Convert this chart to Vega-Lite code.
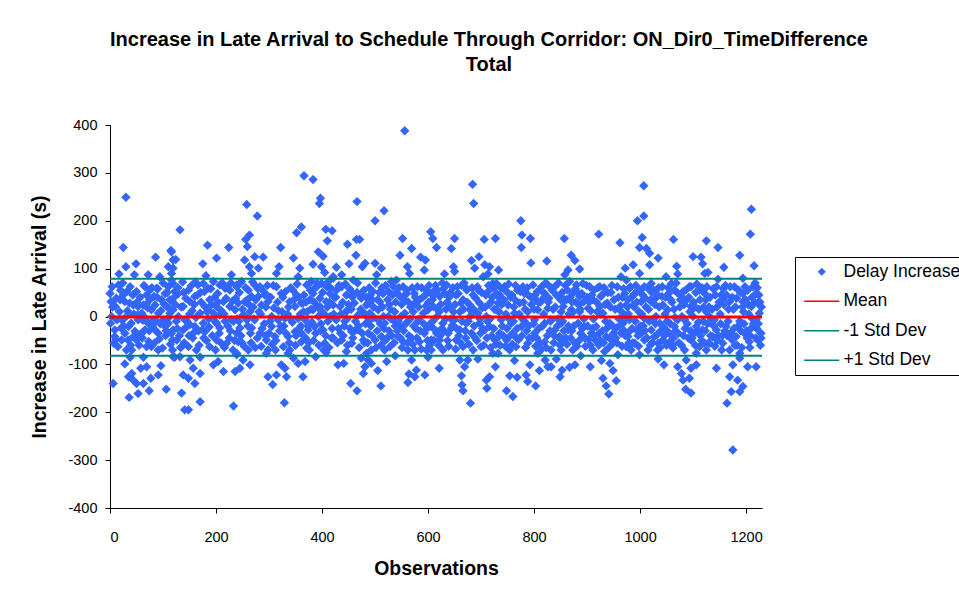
{
  "$schema": "https://vega.github.io/schema/vega-lite/v6.json",
  "width": 652,
  "height": 383,
  "autosize": {"type": "none"},
  "padding": {"left": 110, "top": 125, "right": 197, "bottom": 87},
  "background": "white",
  "title": {
    "text": ["Increase in Late Arrival to Schedule Through Corridor: ON_Dir0_TimeDifference", "Total"],
    "font": "Liberation Sans", "fontSize": 20, "fontWeight": "bold", "color": "black",
    "anchor": "middle", "dx": 53, "offset": 42, "lineHeight": 25, "limit": 0
  },
  "config": {
    "view": {"stroke": null},
    "legend": {
      "orient": "none", "legendX": 685, "legendY": 132,
      "strokeColor": "black", "fillColor": "white", "padding": 6,
      "symbolSize": 100, "symbolOffset": 12, "labelOffset": 13,
      "labelFont": "Liberation Sans", "labelFontSize": 17.5, "labelColor": "black",
      "rowPadding": 10.5, "labelLimit": 0
    }
  },
  "layer": [
    {
      "data": {"values": [
{"o":30,"d":249},{"o":25,"d":144},{"o":30,"d":104},{"o":49,"d":110},{"o":17,"d":89},{"o":46,"d":87},{"o":72,"d":87},{"o":86,"d":124},{"o":115,"d":138},{"o":110,"d":104},{"o":94,"d":83},{"o":119,"d":118},
{"o":6,"d":-140},{"o":36,"d":-169},{"o":53,"d":-161},{"o":74,"d":-155},{"o":106,"d":-152},{"o":91,"d":-122},{"o":77,"d":-129},{"o":58,"d":-108},{"o":28,"d":-99},{"o":41,"d":-119},{"o":50,"d":-140},{"o":44,"d":-133},{"o":63,"d":-140},{"o":35,"d":-126},{"o":69,"d":-105},{"o":96,"d":-103},{"o":119,"d":-84},{"o":38,"d":-85},{"o":63,"d":-85},
{"o":0,"d":48},{"o":16,"d":66},{"o":19,"d":35},{"o":10,"d":21},{"o":3,"d":0},{"o":1,"d":-14},{"o":13,"d":-7},{"o":28,"d":31},{"o":35,"d":7},{"o":9,"d":-42},{"o":22,"d":-49},{"o":28,"d":-35},{"o":44,"d":-42},{"o":50,"d":-49},{"o":41,"d":-70},{"o":53,"d":-7},{"o":50,"d":52},{"o":66,"d":62},{"o":69,"d":45},{"o":63,"d":24},{"o":75,"d":35},{"o":78,"d":14},{"o":85,"d":24},{"o":91,"d":7},{"o":82,"d":-7},{"o":72,"d":-14},{"o":60,"d":7},{"o":97,"d":35},{"o":104,"d":48},{"o":110,"d":62},{"o":116,"d":76},{"o":107,"d":21},{"o":113,"d":7},{"o":101,"d":-7},{"o":91,"d":-35},{"o":104,"d":-21},{"o":119,"d":-28},{"o":78,"d":-63},{"o":69,"d":-63},{"o":91,"d":-70},{"o":9,"d":-28},{"o":2,"d":31},{"o":118,"d":-49},{"o":88,"d":59},{"o":60,"d":-35},{"o":35,"d":-21},{"o":22,"d":-7},{"o":25,"d":45},{"o":44,"d":24},{"o":38,"d":62},{"o":53,"d":21},{"o":66,"d":-28},{"o":85,"d":-28},{"o":31,"d":-70},{"o":113,"d":35},{"o":110,"d":-14},
{"o":4,"d":62},{"o":7,"d":-56},{"o":12,"d":38},{"o":15,"d":-63},{"o":18,"d":10},{"o":21,"d":-24},{"o":24,"d":70},{"o":27,"d":-4},{"o":32,"d":52},{"o":34,"d":-49},{"o":37,"d":28},{"o":40,"d":-14},{"o":43,"d":45},{"o":47,"d":-31},{"o":52,"d":3},{"o":55,"d":-60},{"o":57,"d":40},{"o":61,"d":-45},{"o":64,"d":65},{"o":67,"d":-3},{"o":71,"d":18},{"o":73,"d":-52},{"o":76,"d":56},{"o":80,"d":-21},{"o":83,"d":42},{"o":87,"d":-10},{"o":90,"d":58},{"o":93,"d":-47},{"o":96,"d":12},{"o":99,"d":-66},{"o":102,"d":26},{"o":105,"d":-40},{"o":108,"d":50},{"o":111,"d":-2},{"o":114,"d":-58},{"o":117,"d":33},
{"o":5,"d":20},{"o":11,"d":-48},{"o":20,"d":55},{"o":26,"d":-20},{"o":33,"d":12},{"o":39,"d":-60},{"o":45,"d":5},{"o":51,"d":30},{"o":56,"d":-38},{"o":62,"d":-8},{"o":68,"d":25},{"o":74,"d":-30},{"o":79,"d":60},{"o":84,"d":-55},{"o":89,"d":40},{"o":95,"d":-15},{"o":100,"d":70},{"o":106,"d":-30},{"o":112,"d":18},{"o":118,"d":-70},
{"o":132,"d":181},{"o":184,"d":149},{"o":224,"d":144},{"o":201,"d":122},{"o":175,"d":110},{"o":116,"d":135},{"o":124,"d":119},{"o":119,"d":101},{"o":229,"d":87},{"o":181,"d":85},
{"o":135,"d":-160},{"o":141,"d":-195},{"o":148,"d":-195},{"o":170,"d":-178},{"o":233,"d":-187},{"o":160,"d":-140},{"o":138,"d":-122},{"o":148,"d":-129},{"o":157,"d":-108},{"o":170,"d":-119},{"o":151,"d":-91},{"o":195,"d":-101},{"o":204,"d":-94},{"o":214,"d":-115},{"o":236,"d":-115},{"o":132,"d":-84},{"o":122,"d":-85},{"o":170,"d":-85},{"o":239,"d":-80},
{"o":116,"d":90},{"o":119,"d":69},{"o":129,"d":48},{"o":122,"d":52},{"o":138,"d":21},{"o":148,"d":55},{"o":160,"d":42},{"o":151,"d":31},{"o":166,"d":66},{"o":176,"d":69},{"o":185,"d":59},{"o":195,"d":73},{"o":207,"d":66},{"o":217,"d":59},{"o":226,"d":55},{"o":239,"d":66},{"o":188,"d":35},{"o":179,"d":21},{"o":214,"d":31},{"o":226,"d":21},{"o":236,"d":14},{"o":201,"d":21},{"o":170,"d":7},{"o":185,"d":14},{"o":195,"d":7},{"o":119,"d":14},{"o":129,"d":0},{"o":141,"d":-7},{"o":151,"d":-17},{"o":138,"d":-28},{"o":157,"d":-35},{"o":126,"d":-49},{"o":148,"d":-63},{"o":163,"d":-70},{"o":179,"d":-32},{"o":201,"d":-14},{"o":207,"d":-24},{"o":217,"d":-10},{"o":229,"d":-7},{"o":239,"d":-35},{"o":201,"d":-49},{"o":220,"d":-56},{"o":232,"d":-70},{"o":188,"d":-63},{"o":116,"d":-35},{"o":135,"d":-63},{"o":160,"d":-21},{"o":176,"d":-14},{"o":207,"d":3},
{"o":121,"d":40},{"o":125,"d":-10},{"o":128,"d":60},{"o":131,"d":-40},{"o":134,"d":20},{"o":137,"d":72},{"o":140,"d":-55},{"o":143,"d":38},{"o":146,"d":-20},{"o":150,"d":5},{"o":153,"d":64},{"o":156,"d":-45},{"o":159,"d":25},{"o":162,"d":-2},{"o":165,"d":45},{"o":168,"d":-60},{"o":172,"d":30},{"o":174,"d":-28},{"o":178,"d":52},{"o":182,"d":-50},{"o":186,"d":-5},{"o":190,"d":58},{"o":193,"d":-40},{"o":197,"d":40},{"o":199,"d":-70},{"o":203,"d":48},{"o":206,"d":-35},{"o":210,"d":12},{"o":212,"d":70},{"o":216,"d":-65},{"o":219,"d":38},{"o":222,"d":-20},{"o":225,"d":-45},{"o":228,"d":70},{"o":233,"d":-10},{"o":237,"d":38},
{"o":123,"d":25},{"o":127,"d":-25},{"o":133,"d":-65},{"o":139,"d":50},{"o":144,"d":-8},{"o":149,"d":-40},{"o":155,"d":12},{"o":161,"d":72},{"o":167,"d":-30},{"o":171,"d":50},{"o":177,"d":-45},{"o":183,"d":10},{"o":187,"d":-22},{"o":192,"d":25},{"o":198,"d":-10},{"o":204,"d":30},{"o":209,"d":-55},{"o":215,"d":5},{"o":221,"d":60},{"o":227,"d":-30},{"o":231,"d":32},{"o":235,"d":-50},{"o":240,"d":-5},
{"o":366,"d":294},{"o":258,"d":234},{"o":278,"d":210},{"o":352,"d":175},{"o":361,"d":187},{"o":263,"d":170},{"o":256,"d":161},{"o":259,"d":146},{"o":322,"d":144},{"o":254,"d":118},{"o":273,"d":125},{"o":289,"d":124},{"o":346,"d":122},{"o":263,"d":104},{"o":280,"d":101},{"o":319,"d":104},{"o":314,"d":90},{"o":358,"d":101},{"o":355,"d":83},{"o":267,"d":90},
{"o":329,"d":-180},{"o":307,"d":-142},{"o":298,"d":-126},{"o":314,"d":-122},{"o":333,"d":-126},{"o":364,"d":-126},{"o":245,"d":-108},{"o":264,"d":-101},{"o":251,"d":-91},{"o":323,"d":-101},{"o":330,"d":-108},{"o":346,"d":-87},{"o":355,"d":-98},{"o":239,"d":-77},{"o":295,"d":-77},{"o":336,"d":-77},
{"o":239,"d":62},{"o":248,"d":73},{"o":261,"d":55},{"o":273,"d":66},{"o":283,"d":62},{"o":267,"d":42},{"o":254,"d":31},{"o":242,"d":28},{"o":280,"d":42},{"o":292,"d":45},{"o":298,"d":31},{"o":314,"d":62},{"o":323,"d":48},{"o":339,"d":31},{"o":352,"d":45},{"o":361,"d":28},{"o":349,"d":21},{"o":264,"d":10},{"o":251,"d":3},{"o":286,"d":24},{"o":305,"d":0},{"o":330,"d":-4},{"o":355,"d":-4},{"o":273,"d":-7},{"o":245,"d":-24},{"o":267,"d":-24},{"o":283,"d":-35},{"o":305,"d":-21},{"o":311,"d":-42},{"o":295,"d":-49},{"o":336,"d":-42},{"o":349,"d":-32},{"o":361,"d":-53},{"o":242,"d":-53},{"o":261,"d":-70},{"o":298,"d":-70},{"o":327,"d":-63},{"o":339,"d":-70},{"o":317,"d":-7},{"o":258,"d":-7},
{"o":244,"d":50},{"o":247,"d":-40},{"o":250,"d":15},{"o":253,"d":-62},{"o":256,"d":60},{"o":260,"d":-20},{"o":262,"d":25},{"o":266,"d":-55},{"o":269,"d":72},{"o":271,"d":-5},{"o":275,"d":35},{"o":278,"d":-45},{"o":281,"d":10},{"o":285,"d":-62},{"o":288,"d":55},{"o":291,"d":-15},{"o":294,"d":20},{"o":297,"d":65},{"o":300,"d":-35},{"o":303,"d":40},{"o":306,"d":-58},{"o":309,"d":18},{"o":312,"d":-70},{"o":316,"d":30},{"o":320,"d":-30},{"o":325,"d":10},{"o":328,"d":-20},{"o":331,"d":52},{"o":335,"d":5},{"o":338,"d":-55},{"o":341,"d":60},{"o":344,"d":-12},{"o":347,"d":35},{"o":350,"d":-60},{"o":353,"d":68},{"o":357,"d":-25},{"o":359,"d":5},
{"o":243,"d":-10},{"o":246,"d":70},{"o":249,"d":-55},{"o":255,"d":0},{"o":259,"d":35},{"o":265,"d":-35},{"o":270,"d":20},{"o":274,"d":-65},{"o":279,"d":58},{"o":284,"d":5},{"o":287,"d":-25},{"o":293,"d":-40},{"o":296,"d":45},{"o":302,"d":-10},{"o":308,"d":65},{"o":313,"d":-50},{"o":318,"d":12},{"o":322,"d":-20},{"o":326,"d":40},{"o":332,"d":-35},{"o":337,"d":20},{"o":340,"d":-5},{"o":345,"d":55},{"o":351,"d":-40},{"o":356,"d":40},{"o":360,"d":-20},
{"o":383,"d":286},{"o":397,"d":247},{"o":395,"d":236},{"o":466,"d":240},{"o":407,"d":182},{"o":419,"d":179},{"o":410,"d":158},{"o":448,"d":151},{"o":465,"d":161},{"o":471,"d":161},{"o":464,"d":128},{"o":393,"d":135},{"o":402,"d":126},{"o":383,"d":109},{"o":399,"d":104},{"o":427,"d":103},{"o":451,"d":110},{"o":476,"d":104},{"o":481,"d":111},{"o":405,"d":92},{"o":437,"d":87},{"o":421,"d":83},{"o":459,"d":76},
{"o":368,"d":-94},{"o":430,"d":-101},{"o":441,"d":-98},{"o":454,"d":-140},{"o":466,"d":-155},{"o":478,"d":-119},{"o":481,"d":-105},{"o":388,"d":-84},{"o":408,"d":-75},{"o":474,"d":-87},
{"o":371,"d":66},{"o":380,"d":73},{"o":390,"d":62},{"o":383,"d":48},{"o":399,"d":69},{"o":412,"d":73},{"o":421,"d":80},{"o":437,"d":62},{"o":427,"d":55},{"o":415,"d":48},{"o":446,"d":45},{"o":459,"d":48},{"o":474,"d":38},{"o":484,"d":24},{"o":377,"d":35},{"o":364,"d":28},{"o":396,"d":38},{"o":408,"d":31},{"o":421,"d":24},{"o":434,"d":21},{"o":449,"d":14},{"o":468,"d":3},{"o":484,"d":0},{"o":368,"d":-7},{"o":383,"d":14},{"o":393,"d":0},{"o":415,"d":0},{"o":427,"d":-7},{"o":443,"d":-10},{"o":374,"d":-28},{"o":386,"d":-21},{"o":402,"d":-28},{"o":421,"d":-45},{"o":437,"d":-49},{"o":456,"d":-32},{"o":468,"d":-28},{"o":478,"d":-49},{"o":456,"d":-56},{"o":361,"d":-35},{"o":371,"d":-66},{"o":405,"d":-56},{"o":446,"d":-73},{"o":484,"d":-77},{"o":396,"d":21},
{"o":366,"d":45},{"o":369,"d":-45},{"o":372,"d":10},{"o":375,"d":-55},{"o":378,"d":55},{"o":381,"d":-12},{"o":385,"d":30},{"o":388,"d":-35},{"o":391,"d":70},{"o":394,"d":-60},{"o":398,"d":-15},{"o":401,"d":50},{"o":404,"d":5},{"o":407,"d":-40},{"o":410,"d":20},{"o":413,"d":-65},{"o":416,"d":60},{"o":419,"d":-25},{"o":423,"d":40},{"o":425,"d":-5},{"o":429,"d":-55},{"o":432,"d":65},{"o":435,"d":-35},{"o":439,"d":30},{"o":442,"d":-20},{"o":445,"d":10},{"o":448,"d":-60},{"o":452,"d":58},{"o":455,"d":15},{"o":458,"d":-45},{"o":461,"d":28},{"o":463,"d":-10},{"o":467,"d":70},{"o":470,"d":-65},{"o":473,"d":15},{"o":476,"d":-35},{"o":479,"d":55},{"o":482,"d":-15},
{"o":365,"d":10},{"o":370,"d":30},{"o":373,"d":-20},{"o":376,"d":-70},{"o":379,"d":15},{"o":384,"d":-50},{"o":387,"d":60},{"o":392,"d":20},{"o":397,"d":-30},{"o":400,"d":10},{"o":403,"d":-70},{"o":409,"d":62},{"o":411,"d":-10},{"o":414,"d":30},{"o":418,"d":-45},{"o":422,"d":5},{"o":426,"d":40},{"o":431,"d":-25},{"o":436,"d":5},{"o":440,"d":-40},{"o":444,"d":68},{"o":447,"d":-5},{"o":450,"d":25},{"o":453,"d":-25},{"o":457,"d":40},{"o":462,"d":-30},{"o":466,"d":50},{"o":469,"d":-20},{"o":472,"d":45},{"o":477,"d":10},{"o":480,"d":-55},{"o":483,"d":40},
{"o":556,"d":388},{"o":517,"d":221},{"o":500,"d":200},{"o":552,"d":163},{"o":569,"d":142},{"o":547,"d":128},{"o":605,"d":177},{"o":609,"d":163},{"o":586,"d":124},{"o":595,"d":118},{"o":561,"d":104},{"o":593,"d":97},{"o":500,"d":111},{"o":512,"d":101},{"o":565,"d":90},{"o":503,"d":87},
{"o":511,"d":-145},{"o":505,"d":-113},{"o":522,"d":-94},{"o":493,"d":-98},{"o":562,"d":-138},{"o":564,"d":-120},{"o":575,"d":-126},{"o":594,"d":-122},{"o":578,"d":-112},{"o":569,"d":-91},{"o":538,"d":-82},{"o":600,"d":-85},{"o":487,"d":-91},
{"o":487,"d":28},{"o":496,"d":52},{"o":509,"d":31},{"o":515,"d":48},{"o":525,"d":52},{"o":531,"d":73},{"o":540,"d":76},{"o":553,"d":62},{"o":547,"d":42},{"o":559,"d":48},{"o":575,"d":28},{"o":584,"d":35},{"o":597,"d":55},{"o":606,"d":48},{"o":600,"d":14},{"o":591,"d":7},{"o":572,"d":10},{"o":556,"d":7},{"o":537,"d":10},{"o":525,"d":0},{"o":506,"d":-7},{"o":490,"d":7},{"o":518,"d":-14},{"o":534,"d":-7},{"o":547,"d":-21},{"o":562,"d":-10},{"o":581,"d":-10},{"o":606,"d":-21},{"o":487,"d":-35},{"o":500,"d":-49},{"o":512,"d":-42},{"o":528,"d":-63},{"o":543,"d":-42},{"o":553,"d":-53},{"o":569,"d":-45},{"o":584,"d":-53},{"o":597,"d":-70},{"o":606,"d":-49},{"o":562,"d":-70},{"o":493,"d":-70},{"o":518,"d":-70},{"o":506,"d":14},{"o":575,"d":-70},
{"o":486,"d":-55},{"o":489,"d":60},{"o":492,"d":-20},{"o":495,"d":35},{"o":498,"d":-2},{"o":501,"d":70},{"o":504,"d":-30},{"o":508,"d":50},{"o":511,"d":-60},{"o":514,"d":20},{"o":517,"d":-25},{"o":520,"d":65},{"o":523,"d":-45},{"o":527,"d":25},{"o":530,"d":-5},{"o":533,"d":45},{"o":536,"d":-55},{"o":539,"d":30},{"o":542,"d":-30},{"o":545,"d":60},{"o":549,"d":0},{"o":551,"d":-65},{"o":555,"d":35},{"o":558,"d":-15},{"o":560,"d":55},{"o":564,"d":-40},{"o":567,"d":20},{"o":571,"d":-58},{"o":574,"d":48},{"o":577,"d":-25},{"o":580,"d":62},{"o":583,"d":-5},{"o":587,"d":-68},{"o":590,"d":40},{"o":593,"d":-35},{"o":596,"d":22},{"o":599,"d":-50},{"o":602,"d":65},{"o":604,"d":-15},
{"o":488,"d":-10},{"o":491,"d":45},{"o":494,"d":-40},{"o":497,"d":20},{"o":502,"d":-65},{"o":505,"d":35},{"o":510,"d":-15},{"o":513,"d":60},{"o":516,"d":0},{"o":519,"d":-50},{"o":524,"d":35},{"o":526,"d":-30},{"o":529,"d":15},{"o":532,"d":-40},{"o":535,"d":62},{"o":538,"d":-20},{"o":541,"d":50},{"o":544,"d":-10},{"o":548,"d":-45},{"o":550,"d":25},{"o":554,"d":-30},{"o":557,"d":45},{"o":561,"d":-55},{"o":563,"d":30},{"o":566,"d":-5},{"o":570,"d":60},{"o":573,"d":-20},{"o":576,"d":40},{"o":579,"d":-45},{"o":582,"d":20},{"o":585,"d":-30},{"o":588,"d":60},{"o":592,"d":-15},{"o":595,"d":45},{"o":598,"d":-25},{"o":601,"d":30},{"o":603,"d":-60},
{"o":684,"d":276},{"o":686,"d":236},{"o":616,"d":144},{"o":650,"d":163},{"o":644,"d":142},{"o":706,"d":161},{"o":727,"d":163},{"o":682,"d":117},{"o":696,"d":125},{"o":688,"d":101},{"o":707,"d":108},{"o":716,"d":104},{"o":648,"d":104},{"o":631,"d":89},{"o":650,"d":94},{"o":713,"d":89},{"o":733,"d":97},
{"o":680,"d":-181},{"o":664,"d":-143},{"o":666,"d":-155},{"o":663,"d":-124},{"o":621,"d":-108},{"o":669,"d":-105},{"o":675,"d":-91},{"o":710,"d":-133},{"o":716,"d":-126},{"o":711,"d":-150},{"o":727,"d":-105},{"o":694,"d":-89},{"o":660,"d":-91},{"o":606,"d":-70},
{"o":610,"d":52},{"o":622,"d":42},{"o":635,"d":66},{"o":631,"d":48},{"o":653,"d":45},{"o":672,"d":59},{"o":666,"d":35},{"o":685,"d":45},{"o":697,"d":28},{"o":704,"d":83},{"o":713,"d":52},{"o":722,"d":69},{"o":729,"d":48},{"o":719,"d":31},{"o":610,"d":21},{"o":619,"d":14},{"o":641,"d":21},{"o":660,"d":10},{"o":679,"d":14},{"o":694,"d":7},{"o":710,"d":0},{"o":729,"d":14},{"o":606,"d":-21},{"o":616,"d":-35},{"o":628,"d":-14},{"o":638,"d":-35},{"o":644,"d":-24},{"o":653,"d":-49},{"o":660,"d":-28},{"o":672,"d":-14},{"o":682,"d":-35},{"o":666,"d":-63},{"o":697,"d":-14},{"o":707,"d":-28},{"o":716,"d":-21},{"o":726,"d":-49},{"o":628,"d":-70},{"o":700,"d":-63},{"o":722,"d":-77},{"o":622,"d":-49},{"o":650,"d":-7},{"o":685,"d":-70},
{"o":608,"d":35},{"o":611,"d":-50},{"o":614,"d":65},{"o":617,"d":0},{"o":620,"d":-60},{"o":624,"d":25},{"o":626,"d":-25},{"o":629,"d":58},{"o":633,"d":-5},{"o":636,"d":30},{"o":639,"d":-62},{"o":642,"d":50},{"o":646,"d":-18},{"o":648,"d":10},{"o":652,"d":-68},{"o":655,"d":62},{"o":658,"d":-40},{"o":662,"d":28},{"o":664,"d":-10},{"o":668,"d":70},{"o":671,"d":-45},{"o":674,"d":30},{"o":677,"d":-58},{"o":681,"d":2},{"o":683,"d":60},{"o":687,"d":-20},{"o":690,"d":38},{"o":692,"d":-50},{"o":695,"d":55},{"o":699,"d":-35},{"o":702,"d":18},{"o":705,"d":-60},{"o":709,"d":45},{"o":712,"d":-10},{"o":715,"d":25},{"o":718,"d":-65},{"o":721,"d":40},{"o":724,"d":-25},{"o":728,"d":-58},
{"o":609,"d":-10},{"o":612,"d":45},{"o":615,"d":-30},{"o":618,"d":55},{"o":621,"d":10},{"o":623,"d":-40},{"o":627,"d":70},{"o":630,"d":-30},{"o":634,"d":15},{"o":637,"d":-50},{"o":640,"d":40},{"o":643,"d":-5},{"o":647,"d":60},{"o":651,"d":25},{"o":654,"d":-25},{"o":657,"d":48},{"o":661,"d":-55},{"o":663,"d":65},{"o":667,"d":15},{"o":670,"d":-30},{"o":673,"d":55},{"o":676,"d":-10},{"o":678,"d":25},{"o":686,"d":15},{"o":689,"d":-45},{"o":693,"d":62},{"o":698,"d":-5},{"o":701,"d":50},{"o":703,"d":-25},{"o":708,"d":20},{"o":711,"d":-45},{"o":714,"d":65},{"o":717,"d":-5},{"o":720,"d":-40},{"o":723,"d":60},{"o":725,"d":15},
{"o":775,"d":200},{"o":777,"d":170},{"o":793,"d":163},{"o":776,"d":144},{"o":794,"d":112},{"o":824,"d":116},{"o":857,"d":163},
{"o":748,"d":-155},{"o":760,"d":-167},{"o":754,"d":-124},{"o":768,"d":-127},{"o":785,"d":-122},{"o":788,"d":-136},{"o":803,"d":-145},{"o":810,"d":-113},{"o":826,"d":-105},{"o":763,"d":-92},{"o":792,"d":-101},{"o":832,"d":-105},{"o":849,"d":-126},{"o":821,"d":-91},{"o":842,"d":-89},
{"o":729,"d":69},{"o":735,"d":45},{"o":745,"d":55},{"o":732,"d":28},{"o":751,"d":24},{"o":763,"d":7},{"o":773,"d":28},{"o":782,"d":48},{"o":798,"d":66},{"o":814,"d":62},{"o":826,"d":66},{"o":839,"d":62},{"o":820,"d":48},{"o":804,"d":35},{"o":788,"d":10},{"o":807,"d":14},{"o":826,"d":17},{"o":848,"d":42},{"o":851,"d":10},{"o":782,"d":-10},{"o":801,"d":-7},{"o":820,"d":-14},{"o":832,"d":-7},{"o":738,"d":-7},{"o":735,"d":-35},{"o":748,"d":-49},{"o":760,"d":-35},{"o":766,"d":-63},{"o":754,"d":-70},{"o":788,"d":-56},{"o":801,"d":-35},{"o":820,"d":-53},{"o":839,"d":-28},{"o":848,"d":-42},{"o":832,"d":-70},{"o":807,"d":-77},{"o":732,"d":-77},{"o":776,"d":-21},{"o":757,"d":-14},
{"o":731,"d":-45},{"o":734,"d":10},{"o":737,"d":60},{"o":740,"d":-20},{"o":743,"d":35},{"o":746,"d":-62},{"o":750,"d":50},{"o":753,"d":-5},{"o":756,"d":40},{"o":759,"d":-58},{"o":762,"d":20},{"o":765,"d":65},{"o":768,"d":-25},{"o":771,"d":-48},{"o":774,"d":52},{"o":778,"d":-5},{"o":780,"d":30},{"o":784,"d":-65},{"o":787,"d":60},{"o":790,"d":-20},{"o":794,"d":40},{"o":797,"d":-45},{"o":800,"d":15},{"o":803,"d":-62},{"o":806,"d":52},{"o":809,"d":-25},{"o":812,"d":30},{"o":815,"d":-68},{"o":818,"d":5},{"o":822,"d":70},{"o":825,"d":-40},{"o":828,"d":38},{"o":831,"d":-10},{"o":834,"d":55},{"o":837,"d":-55},{"o":840,"d":20},{"o":844,"d":-20},{"o":846,"d":70},{"o":849,"d":-60},
{"o":733,"d":40},{"o":736,"d":-60},{"o":739,"d":25},{"o":742,"d":-40},{"o":744,"d":62},{"o":747,"d":5},{"o":749,"d":-25},{"o":752,"d":68},{"o":755,"d":-40},{"o":758,"d":45},{"o":761,"d":-10},{"o":764,"d":35},{"o":767,"d":-45},{"o":769,"d":55},{"o":772,"d":5},{"o":777,"d":-40},{"o":779,"d":62},{"o":783,"d":15},{"o":786,"d":-30},{"o":789,"d":45},{"o":791,"d":-45},{"o":795,"d":25},{"o":799,"d":-15},{"o":802,"d":45},{"o":805,"d":-45},{"o":808,"d":30},{"o":811,"d":-55},{"o":813,"d":55},{"o":816,"d":-20},{"o":819,"d":40},{"o":823,"d":-65},{"o":827,"d":30},{"o":830,"d":-30},{"o":833,"d":60},{"o":836,"d":15},{"o":838,"d":-40},{"o":842,"d":45},{"o":845,"d":-5},{"o":847,"d":-45},{"o":850,"d":35},
{"o":922,"d":172},{"o":962,"d":154},{"o":870,"d":128},{"o":877,"d":117},{"o":972,"d":101},{"o":886,"d":99},{"o":864,"d":97},{"o":858,"d":87},{"o":964,"d":83},
{"o":941,"d":-162},{"o":936,"d":-145},{"o":930,"d":-129},{"o":955,"d":-134},{"o":949,"d":-113},{"o":853,"d":-112},{"o":867,"d":-106},{"o":877,"d":-101},{"o":906,"d":-105},{"o":927,"d":-92},{"o":943,"d":-98},{"o":958,"d":-80},{"o":888,"d":-82},
{"o":867,"d":73},{"o":880,"d":66},{"o":892,"d":69},{"o":905,"d":62},{"o":924,"d":62},{"o":873,"d":48},{"o":886,"d":42},{"o":861,"d":35},{"o":911,"d":35},{"o":924,"d":21},{"o":930,"d":7},{"o":971,"d":48},{"o":974,"d":24},{"o":855,"d":21},{"o":870,"d":14},{"o":886,"d":10},{"o":902,"d":17},{"o":851,"d":-14},{"o":864,"d":-28},{"o":855,"d":-49},{"o":851,"d":-70},{"o":883,"d":-14},{"o":895,"d":-21},{"o":892,"d":-42},{"o":908,"d":-35},{"o":917,"d":-21},{"o":943,"d":-14},{"o":955,"d":-24},{"o":968,"d":-14},{"o":924,"d":-49},{"o":936,"d":-42},{"o":949,"d":-56},{"o":964,"d":-35},{"o":974,"d":-63},{"o":911,"d":-70},{"o":933,"d":-73},{"o":873,"d":-70},{"o":971,"d":3},
{"o":853,"d":50},{"o":856,"d":-30},{"o":859,"d":65},{"o":862,"d":-58},{"o":866,"d":5},{"o":869,"d":-45},{"o":872,"d":30},{"o":875,"d":-20},{"o":878,"d":58},{"o":881,"d":-62},{"o":884,"d":25},{"o":888,"d":-35},{"o":890,"d":48},{"o":894,"d":-5},{"o":897,"d":-62},{"o":900,"d":40},{"o":903,"d":-48},{"o":907,"d":12},{"o":910,"d":-25},{"o":913,"d":55},{"o":916,"d":-50},{"o":919,"d":10},{"o":922,"d":-60},{"o":926,"d":42},{"o":929,"d":-30},{"o":932,"d":60},{"o":935,"d":-10},{"o":938,"d":28},{"o":941,"d":-65},{"o":945,"d":50},{"o":948,"d":-20},{"o":951,"d":35},{"o":954,"d":-45},{"o":957,"d":62},{"o":960,"d":-5},{"o":963,"d":22},{"o":966,"d":-62},{"o":969,"d":58},{"o":972,"d":-40},
{"o":854,"d":-10},{"o":857,"d":35},{"o":860,"d":-45},{"o":863,"d":55},{"o":865,"d":-20},{"o":868,"d":40},{"o":871,"d":-30},{"o":874,"d":10},{"o":877,"d":-55},{"o":879,"d":30},{"o":882,"d":50},{"o":885,"d":-50},{"o":887,"d":15},{"o":891,"d":-25},{"o":893,"d":30},{"o":896,"d":-45},{"o":899,"d":65},{"o":901,"d":-20},{"o":904,"d":30},{"o":906,"d":-60},{"o":909,"d":45},{"o":912,"d":-5},{"o":914,"d":-40},{"o":918,"d":30},{"o":920,"d":60},{"o":923,"d":-35},{"o":925,"d":5},{"o":928,"d":45},{"o":931,"d":-55},{"o":934,"d":25},{"o":937,"d":-25},{"o":939,"d":50},{"o":942,"d":-45},{"o":944,"d":20},{"o":947,"d":65},{"o":950,"d":-35},{"o":953,"d":15},{"o":956,"d":-55},{"o":959,"d":40},{"o":961,"d":-20},{"o":965,"d":10},{"o":967,"d":40},{"o":970,"d":-30},{"o":973,"d":-5},
{"o":1007,"d":273},{"o":1007,"d":210},{"o":995,"d":200},{"o":1004,"d":165},{"o":1063,"d":161},{"o":999,"d":144},{"o":1012,"d":142},{"o":1018,"d":132},{"o":1034,"d":122},{"o":1100,"d":125},{"o":987,"d":108},{"o":1018,"d":108},{"o":1069,"d":105},{"o":1071,"d":89},{"o":999,"d":90},{"o":1049,"d":83},
{"o":1086,"d":-152},{"o":1096,"d":-160},{"o":1081,"d":-133},{"o":1093,"d":-129},{"o":1071,"d":-105},{"o":1078,"d":-119},{"o":1045,"d":-101},{"o":1034,"d":-89},{"o":999,"d":-80},{"o":1087,"d":-91},{"o":1062,"d":-66},
{"o":974,"d":76},{"o":980,"d":59},{"o":990,"d":48},{"o":1008,"d":62},{"o":1021,"d":69},{"o":1030,"d":48},{"o":1059,"d":69},{"o":1065,"d":55},{"o":1078,"d":42},{"o":1093,"d":62},{"o":977,"d":35},{"o":987,"d":24},{"o":1002,"d":31},{"o":1021,"d":31},{"o":1043,"d":24},{"o":1052,"d":14},{"o":1096,"d":21},{"o":1084,"d":-7},{"o":1030,"d":0},{"o":1008,"d":-4},{"o":980,"d":-7},{"o":993,"d":-28},{"o":1002,"d":-35},{"o":1021,"d":-28},{"o":1037,"d":-14},{"o":1049,"d":-28},{"o":1065,"d":-21},{"o":1071,"d":-7},{"o":977,"d":-42},{"o":990,"d":-56},{"o":1008,"d":-49},{"o":1027,"d":-42},{"o":1043,"d":-49},{"o":1056,"d":-53},{"o":1084,"d":-70},{"o":1096,"d":-49},{"o":983,"d":-70},{"o":1015,"d":-70},{"o":1034,"d":-56},
{"o":976,"d":20},{"o":979,"d":-55},{"o":982,"d":62},{"o":985,"d":-25},{"o":988,"d":45},{"o":991,"d":-10},{"o":994,"d":30},{"o":997,"d":-62},{"o":1000,"d":55},{"o":1003,"d":5},{"o":1006,"d":-20},{"o":1010,"d":38},{"o":1013,"d":-45},{"o":1016,"d":15},{"o":1019,"d":-60},{"o":1022,"d":50},{"o":1025,"d":-5},{"o":1028,"d":25},{"o":1032,"d":-38},{"o":1035,"d":60},{"o":1038,"d":-65},{"o":1041,"d":42},{"o":1044,"d":-22},{"o":1047,"d":5},{"o":1050,"d":-60},{"o":1054,"d":48},{"o":1057,"d":-15},{"o":1060,"d":30},{"o":1063,"d":-45},{"o":1066,"d":-2},{"o":1068,"d":70},{"o":1072,"d":-35},{"o":1075,"d":20},{"o":1078,"d":-60},{"o":1081,"d":52},{"o":1085,"d":-25},{"o":1088,"d":35},{"o":1091,"d":-45},{"o":1094,"d":10},
{"o":978,"d":5},{"o":981,"d":-30},{"o":984,"d":40},{"o":986,"d":-55},{"o":989,"d":20},{"o":992,"d":65},{"o":996,"d":-40},{"o":998,"d":10},{"o":1001,"d":-20},{"o":1005,"d":45},{"o":1009,"d":-30},{"o":1011,"d":20},{"o":1014,"d":60},{"o":1017,"d":-10},{"o":1020,"d":35},{"o":1023,"d":-55},{"o":1026,"d":55},{"o":1029,"d":-15},{"o":1031,"d":40},{"o":1033,"d":-70},{"o":1036,"d":20},{"o":1039,"d":-30},{"o":1042,"d":62},{"o":1046,"d":-40},{"o":1048,"d":40},{"o":1051,"d":-10},{"o":1053,"d":60},{"o":1055,"d":-35},{"o":1058,"d":35},{"o":1061,"d":-60},{"o":1064,"d":15},{"o":1067,"d":-30},{"o":1070,"d":50},{"o":1073,"d":-55},{"o":1076,"d":35},{"o":1079,"d":0},{"o":1082,"d":-40},{"o":1083,"d":25},{"o":1086,"d":55},{"o":1089,"d":-15},{"o":1092,"d":40},{"o":1095,"d":-30},
{"o":1210,"d":224},{"o":1208,"d":172},{"o":1125,"d":158},{"o":1147,"d":144},{"o":1188,"d":128},{"o":1115,"d":124},{"o":1118,"d":110},{"o":1158,"d":103},{"o":1215,"d":106},{"o":1122,"d":90},{"o":1128,"d":92},{"o":1194,"d":80},{"o":1147,"d":78},
{"o":1175,"d":-279},{"o":1164,"d":-181},{"o":1172,"d":-157},{"o":1188,"d":-157},{"o":1194,"d":-146},{"o":1184,"d":-133},{"o":1169,"d":-126},{"o":1096,"d":-108},{"o":1144,"d":-108},{"o":1106,"d":-101},{"o":1175,"d":-101},{"o":1188,"d":-87},{"o":1203,"d":-105},{"o":1219,"d":-105},
{"o":1096,"d":62},{"o":1112,"d":55},{"o":1122,"d":48},{"o":1144,"d":62},{"o":1153,"d":45},{"o":1156,"d":35},{"o":1178,"d":62},{"o":1194,"d":48},{"o":1203,"d":55},{"o":1213,"d":62},{"o":1219,"d":48},{"o":1222,"d":28},{"o":1210,"d":21},{"o":1194,"d":31},{"o":1169,"d":31},{"o":1103,"d":21},{"o":1100,"d":0},{"o":1125,"d":10},{"o":1131,"d":0},{"o":1140,"d":-7},{"o":1144,"d":-28},{"o":1137,"d":-42},{"o":1118,"d":-28},{"o":1106,"d":-21},{"o":1112,"d":-63},{"o":1125,"d":-70},{"o":1131,"d":-56},{"o":1162,"d":-21},{"o":1188,"d":-10},{"o":1197,"d":-35},{"o":1210,"d":-24},{"o":1222,"d":-49},{"o":1219,"d":-7},{"o":1206,"d":-53},{"o":1181,"d":-42},{"o":1169,"d":-70},{"o":1156,"d":-56},{"o":1106,"d":-77},{"o":1225,"d":7},{"o":1228,"d":-35},{"o":1188,"d":-77},
{"o":1098,"d":-45},{"o":1101,"d":30},{"o":1104,"d":-60},{"o":1107,"d":68},{"o":1110,"d":-12},{"o":1113,"d":35},{"o":1116,"d":-50},{"o":1120,"d":20},{"o":1123,"d":-30},{"o":1126,"d":62},{"o":1129,"d":-55},{"o":1132,"d":40},{"o":1135,"d":-8},{"o":1138,"d":58},{"o":1141,"d":-62},{"o":1145,"d":20},{"o":1148,"d":-40},{"o":1151,"d":5},{"o":1154,"d":-70},{"o":1157,"d":58},{"o":1160,"d":-30},{"o":1163,"d":45},{"o":1166,"d":-10},{"o":1170,"d":62},{"o":1173,"d":-48},{"o":1176,"d":15},{"o":1179,"d":-60},{"o":1182,"d":38},{"o":1185,"d":-20},{"o":1189,"d":50},{"o":1192,"d":-65},{"o":1195,"d":10},{"o":1198,"d":62},{"o":1201,"d":-30},{"o":1204,"d":25},{"o":1207,"d":-65},{"o":1211,"d":40},{"o":1214,"d":-15},{"o":1217,"d":70},{"o":1220,"d":-25},{"o":1224,"d":45},{"o":1227,"d":-60},{"o":1229,"d":20},
{"o":1099,"d":15},{"o":1102,"d":-35},{"o":1105,"d":50},{"o":1108,"d":-30},{"o":1111,"d":15},{"o":1114,"d":-40},{"o":1117,"d":60},{"o":1119,"d":-10},{"o":1121,"d":-55},{"o":1124,"d":35},{"o":1127,"d":-15},{"o":1130,"d":20},{"o":1133,"d":-40},{"o":1136,"d":15},{"o":1139,"d":-20},{"o":1142,"d":45},{"o":1146,"d":-50},{"o":1149,"d":30},{"o":1152,"d":-15},{"o":1155,"d":-40},{"o":1158,"d":25},{"o":1161,"d":65},{"o":1164,"d":-40},{"o":1167,"d":15},{"o":1171,"d":-35},{"o":1174,"d":40},{"o":1177,"d":-25},{"o":1180,"d":20},{"o":1183,"d":-60},{"o":1186,"d":55},{"o":1190,"d":-30},{"o":1193,"d":20},{"o":1196,"d":-15},{"o":1199,"d":35},{"o":1202,"d":-45},{"o":1205,"d":5},{"o":1208,"d":-40},{"o":1212,"d":-5},{"o":1216,"d":30},{"o":1218,"d":-45},{"o":1221,"d":60},{"o":1223,"d":-15},{"o":1226,"d":30},{"o":1228,"d":-45}
      ]},
      "mark": {"type": "point", "filled": true, "opacity": 1, "size": 120, "strokeWidth": 2},
      "encoding": {
        "x": {
          "field": "o", "type": "quantitative",
          "scale": {"domain": [0, 1230], "nice": false},
          "axis": {
            "title": "Observations", "values": [0, 200, 400, 600, 800, 1000, 1200], "grid": false,
            "labelExpr": "'' + datum.value",
            "tickSize": 5, "tickColor": "black", "domainColor": "black",
            "labelFont": "Liberation Sans", "labelFontSize": 14.5, "labelColor": "black", "labelPadding": 17,
            "titleFont": "Liberation Sans", "titleFontSize": 19.5, "titleFontWeight": "bold", "titleColor": "black", "titlePadding": 16
          }
        },
        "y": {
          "field": "d", "type": "quantitative",
          "scale": {"domain": [-400, 400], "nice": false},
          "axis": {
            "title": "Increase in Late Arrival (s)", "values": [-400, -300, -200, -100, 0, 100, 200, 300, 400], "grid": false,
            "labelExpr": "'' + datum.value",
            "tickSize": 5, "tickColor": "black", "domainColor": "black",
            "labelFont": "Liberation Sans", "labelFontSize": 14.5, "labelColor": "black", "labelPadding": 8,
            "titleFont": "Liberation Sans", "titleFontSize": 19.5, "titleFontWeight": "bold", "titleColor": "black", "titlePadding": 18
          }
        },
        "fill": {
          "datum": "Delay Increase", "type": "nominal",
          "scale": {"domain": ["Delay Increase", "Mean", "-1 Std Dev", "+1 Std Dev"], "range": ["#3366FF", "#FF0000", "#008080", "#008080"]},
          "legend": {"title": null}
        },
        "stroke": {
          "datum": "Delay Increase", "type": "nominal",
          "scale": {"domain": ["Delay Increase", "Mean", "-1 Std Dev", "+1 Std Dev"], "range": ["#3366FF", "#FF0000", "#008080", "#008080"]},
          "legend": {"title": null}
        },
        "shape": {
          "datum": "Delay Increase", "type": "nominal",
          "scale": {"domain": ["Delay Increase", "Mean", "-1 Std Dev", "+1 Std Dev"], "range": ["M0,-0.6L0.6,0L0,0.6L-0.6,0Z", "M-3.5,0L3.5,0", "M-3.5,0L3.5,0", "M-3.5,0L3.5,0"]},
          "legend": {"title": null}
        }
      }
    },
    {
      "data": {"values": [{"s": "Mean", "v": -1}]},
      "mark": {"type": "rule", "strokeWidth": 3},
      "encoding": {
        "y": {"field": "v", "type": "quantitative"},
        "stroke": {"field": "s", "type": "nominal", "legend": {"title": null}}
      }
    },
    {
      "data": {"values": [{"s": "-1 Std Dev", "v": -82}, {"s": "+1 Std Dev", "v": 79}]},
      "mark": {"type": "rule", "strokeWidth": 2},
      "encoding": {
        "y": {"field": "v", "type": "quantitative"},
        "stroke": {"field": "s", "type": "nominal", "legend": {"title": null}}
      }
    }
  ]
}
